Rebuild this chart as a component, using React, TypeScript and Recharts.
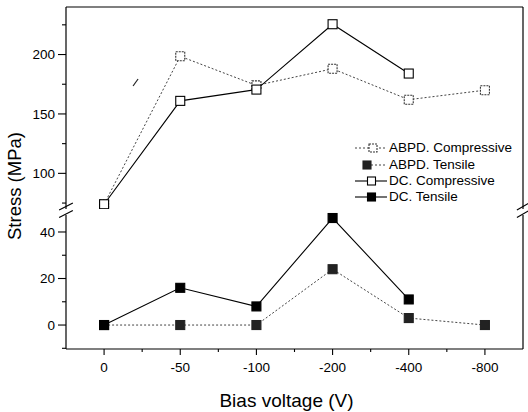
import React from 'react';
import { LineChart, Line, XAxis, YAxis, ReferenceLine, Legend, Label } from 'recharts';

const xLabels = ['0', '-50', '-100', '-200', '-400', '-800'];
const abpdCompressive = [74, 198.5, 174, 188, 162, 170];
const dcCompressive = [74, 161, 170.5, 225.5, 184, null];
const abpdTensile = [0, 0, 0, 24, 3, 0];
const dcTensile = [0, 16, 8, 46, 11, null];
const seriesNames = ['ABPD. Compressive', 'ABPD. Tensile', 'DC. Compressive', 'DC. Tensile'];
const upperTicks = [75, 100, 125, 150, 175, 200, 225];
const upperMajor = [100, 150, 200];
const lowerTicks = [-10, 0, 10, 20, 30, 40];
const lowerMajor = [0, 20, 40];
const xTicks = [0, 0.5, 1, 1.5, 2, 2.5, 3, 3.5, 4, 4.5, 5];

const upperData = xLabels.map((label, i) => ({ x: i, label, abpd: abpdCompressive[i], dc: dcCompressive[i] }));
const lowerData = xLabels.map((label, i) => ({ x: i, label, abpd: abpdTensile[i], dc: dcTensile[i] }));

const FONT = '"Liberation Sans", Arial, Helvetica, sans-serif';

const styles = [
  { line: '#444', dash: '2 2', fill: '#fff', stroke: '#333', mdash: '2 1', lx1: 3, sq: 21 },
  { line: '#444', dash: '2 2', fill: '#222', stroke: '#222', mdash: undefined, lx1: 19, sq: 15 },
  { line: '#000', dash: undefined, fill: '#fff', stroke: '#000', mdash: undefined, lx1: 3, sq: 19.5 },
  { line: '#000', dash: undefined, fill: '#000', stroke: '#000', mdash: undefined, lx1: 3, sq: 19.5 },
];

const squareDot = (s: any) => (props: any) => {
  const { cx, cy, index, value } = props;
  if (cx == null || cy == null || value == null) return <g key={`e${index}`} />;
  return (
    <rect
      key={`d${index}`}
      x={cx - 4.5}
      y={cy - 4.5}
      width={9}
      height={9}
      fill={s.fill}
      stroke={s.stroke}
      strokeWidth={1.1}
      strokeDasharray={s.mdash}
    />
  );
};

const YTick = (props: any) => {
  const { x, y, payload, major } = props;
  const v = payload.value;
  const isMajor = major.includes(v);
  const axisX = x + 11;
  return (
    <g>
      <line x1={axisX} x2={axisX - (isMajor ? 8 : 4)} y1={y} y2={y} stroke="#000" strokeWidth={1.1} />
      {isMajor && (
        <text x={x} y={y} dy="0.35em" textAnchor="end" fontSize={13.5} fontFamily={FONT} fill="#000">
          {v}
        </text>
      )}
    </g>
  );
};

const XTick = (props: any) => {
  const { x, y, payload } = props;
  const v = payload.value;
  const isMajor = Number.isInteger(v);
  const axisY = y - 13;
  return (
    <g>
      <line x1={x} x2={x} y1={axisY} y2={axisY + (isMajor ? 6 : 3)} stroke="#000" strokeWidth={1.1} />
      {isMajor && (
        <text x={x} y={y} dy="0.71em" textAnchor="middle" fontSize={13.5} fontFamily={FONT} fill="#000">
          {xLabels[v]}
        </text>
      )}
    </g>
  );
};

const renderLegend = () => (
  <div style={{ fontFamily: FONT, fontSize: 13.5, color: '#000' }}>
    {seriesNames.map((name, i) => {
      const s = styles[i];
      return (
        <div key={name} style={{ display: 'flex', alignItems: 'center', height: 16.4 }}>
          <svg width={36} height={16} style={{ display: 'block' }}>
            <line x1={s.lx1} x2={35} y1={8} y2={8} stroke={s.line} strokeWidth={1.1} strokeDasharray={s.dash} />
            <rect x={s.sq - 4} y={4} width={8} height={8} fill={s.fill} stroke={s.stroke} strokeWidth={1.1} strokeDasharray={s.mdash} />
          </svg>
          <span style={{ marginLeft: 1, whiteSpace: 'nowrap', lineHeight: '16px' }}>{name}</span>
        </div>
      );
    })}
  </div>
);

const axisLineStyle = { stroke: '#000', strokeWidth: 1.2 };

export default function App() {
  return (
    <div style={{ position: 'absolute', left: 0, top: 0, width: 528, height: 412, background: '#fff', fontFamily: FONT }}>
      <div style={{ position: 'absolute', left: 0, top: 0 }}>
        <LineChart width={528} height={209} data={upperData} margin={{ top: 7, right: 5, bottom: 0, left: 0 }}>
          <XAxis type="number" dataKey="x" domain={[-0.5, 5.5]} hide />
          <YAxis
            type="number"
            domain={[70, 240]}
            ticks={upperTicks}
            interval={0}
            tick={<YTick major={upperMajor} />}
            tickLine={false}
            tickSize={8}
            tickMargin={3}
            width={66}
            axisLine={axisLineStyle}
          />
          <ReferenceLine y={240} stroke="#000" strokeWidth={1.2} />
          <ReferenceLine x={5.5} stroke="#000" strokeWidth={1.2} />
          <ReferenceLine
            segment={[{ x: 0.38, y: 173.5 }, { x: 0.446, y: 179.4 }]}
            stroke="#222"
            strokeWidth={1.2}
            ifOverflow="visible"
          />
          <Legend
            layout="vertical"
            align="center"
            verticalAlign="middle"
            content={renderLegend}
            wrapperStyle={{ left: 352, top: 140, width: 176 }}
          />
          <Line
            dataKey="abpd"
            stroke={styles[0].line}
            strokeWidth={1}
            strokeDasharray={styles[0].dash}
            dot={squareDot(styles[0])}
            isAnimationActive={false}
          />
          <Line
            dataKey="dc"
            stroke={styles[2].line}
            strokeWidth={1.1}
            dot={squareDot(styles[2])}
            isAnimationActive={false}
          />
        </LineChart>
      </div>
      <div style={{ position: 'absolute', left: 0, top: 195 }}>
        <LineChart width={528} height={217} data={lowerData} margin={{ top: 20, right: 5, bottom: 0, left: 0 }}>
          <XAxis
            type="number"
            dataKey="x"
            domain={[-0.5, 5.5]}
            ticks={xTicks}
            interval={0}
            tick={<XTick />}
            tickLine={false}
            tickSize={6}
            tickMargin={7}
            height={63}
            axisLine={axisLineStyle}
          >
            <Label
              value="Bias voltage (V)"
              position="insideBottom"
              offset={5}
              dx={-8}
              style={{ fontSize: 19, fill: '#000', fontFamily: FONT }}
            />
          </XAxis>
          <YAxis
            type="number"
            domain={[-10.3, 47.3]}
            ticks={lowerTicks}
            interval={0}
            tick={<YTick major={lowerMajor} />}
            tickLine={false}
            tickSize={8}
            tickMargin={3}
            width={66}
            axisLine={axisLineStyle}
          />
          <ReferenceLine x={5.5} stroke="#000" strokeWidth={1.2} />
          <ReferenceLine segment={[{ x: -0.59, y: 49.46 }, { x: -0.41, y: 52.46 }]} stroke="#000" strokeWidth={1.2} ifOverflow="visible" />
          <ReferenceLine segment={[{ x: -0.59, y: 46.23 }, { x: -0.41, y: 49.23 }]} stroke="#000" strokeWidth={1.2} ifOverflow="visible" />
          <ReferenceLine segment={[{ x: 5.42, y: 49.46 }, { x: 5.58, y: 52.46 }]} stroke="#000" strokeWidth={1.2} ifOverflow="visible" />
          <ReferenceLine segment={[{ x: 5.42, y: 46.23 }, { x: 5.58, y: 49.23 }]} stroke="#000" strokeWidth={1.2} ifOverflow="visible" />
          <Line
            dataKey="abpd"
            stroke={styles[1].line}
            strokeWidth={1}
            strokeDasharray={styles[1].dash}
            dot={squareDot(styles[1])}
            isAnimationActive={false}
          />
          <Line
            dataKey="dc"
            stroke={styles[3].line}
            strokeWidth={1.1}
            dot={squareDot(styles[3])}
            isAnimationActive={false}
          />
        </LineChart>
      </div>
      <div
        style={{
          position: 'absolute',
          left: 15 - 100,
          top: 186 - 12,
          width: 200,
          height: 24,
          lineHeight: '24px',
          textAlign: 'center',
          transform: 'rotate(-90deg)',
          fontSize: 18.5,
          fontFamily: FONT,
          color: '#000',
        }}
      >
        Stress (MPa)
      </div>
    </div>
  );
}
